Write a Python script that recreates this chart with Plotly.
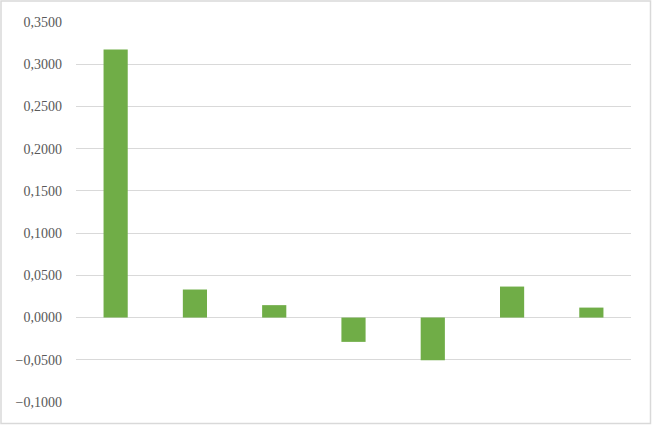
import plotly.graph_objects as go

categories = ["1", "2", "3", "4", "5", "6", "7"]
values = [0.3175, 0.0332, 0.0147, -0.0288, -0.0505, 0.0367, 0.0118]

W, H = 652, 425
L, R, T, B = 76, 21, 22, 23
pw, ph = W - L - R, H - T - B

fig = go.Figure()

fig.add_trace(
    go.Bar(
        x=categories,
        y=values,
        marker_color="#70AD47",
        marker_line_width=0,
        hoverinfo="y",
    )
)

fig.update_layout(
    width=W,
    height=H,
    margin={"l": L, "r": R, "t": T, "b": B},
    paper_bgcolor="white",
    plot_bgcolor="white",
    bargap=0.695,
    showlegend=False,
    separators=", ",
    font={"family": "Times New Roman, Liberation Serif, serif", "size": 14,
          "color": "#595959"},
    xaxis={"showticklabels": False, "showgrid": False, "zeroline": False,
           "showline": False, "ticks": ""},
    yaxis={
        "range": [-0.1, 0.35],
        "dtick": 0.05,
        "tick0": 0,
        "tickformat": ".4f",
        "showgrid": True,
        "gridcolor": "#D9D9D9",
        "gridwidth": 1,
        "zeroline": True,
        "zerolinecolor": "#D9D9D9",
        "zerolinewidth": 1,
        "showline": False,
        "ticks": "",
        "ticklabelstandoff": 13,
    },
)

# light outer frame around the whole chart
fig.add_shape(
    type="rect",
    xref="paper",
    yref="paper",
    x0=(1 - L) / pw,
    x1=1 + (R - 1.5) / pw,
    y0=-(B - 1.5) / ph,
    y1=1 + (T - 1) / ph,
    line={"color": "#D9D9D9", "width": 1.5},
    layer="below",
)

fig.write_html(
    "out.html",
    config={"displayModeBar": False},
    post_script="document.body.style.margin='0';",
)
